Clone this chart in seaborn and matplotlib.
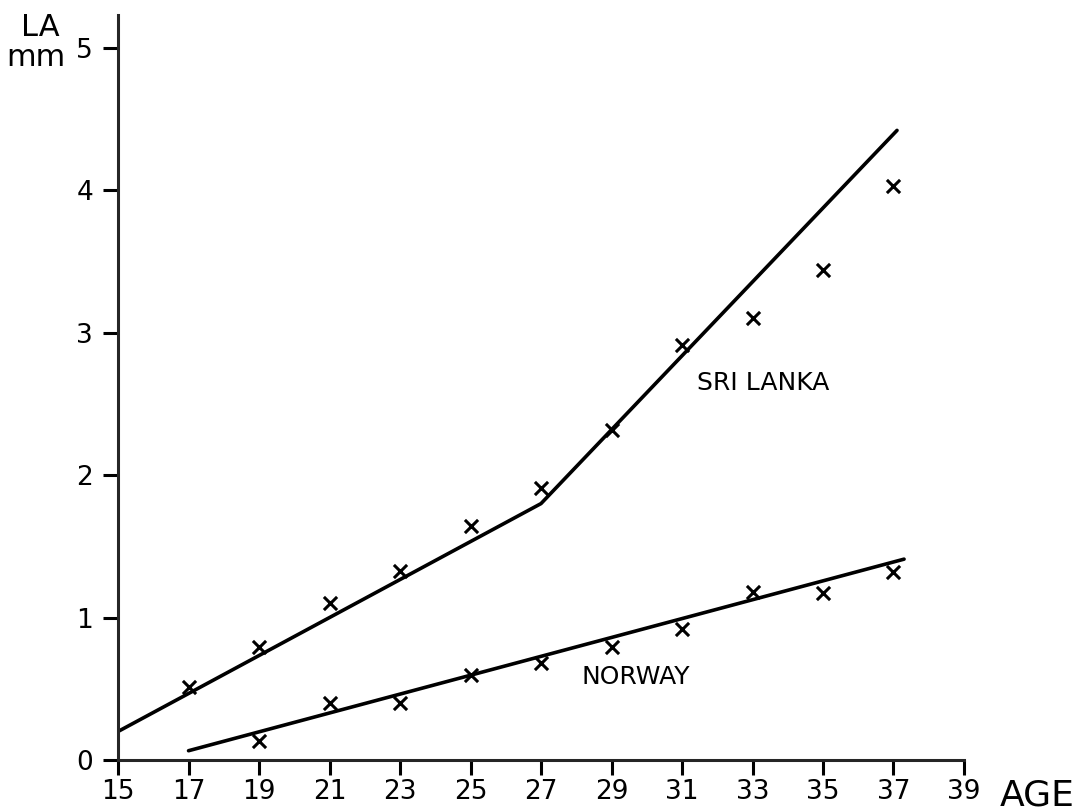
import matplotlib
matplotlib.use("Agg")
import matplotlib.pyplot as plt
import seaborn as sns
import pandas as pd

# Observed points
ages = [17, 19, 21, 23, 25, 27, 29, 31, 33, 35, 37]
sri_lanka = [0.51, 0.79, 1.10, 1.33, 1.64, 1.91, 2.32, 2.91, 3.10, 3.44, 4.03]
norway_ages = [19, 21, 23, 25, 27, 29, 31, 33, 35, 37]
norway = [0.13, 0.40, 0.40, 0.60, 0.68, 0.79, 0.92, 1.18, 1.17, 1.32]

# Fitted lines
sl_fit_x = [15, 27, 37.1]
sl_fit_y = [0.20, 1.80, 4.42]
no_fit_x = [17, 37.3]
no_fit_y = [0.065, 1.41]

x_ticks = list(range(15, 40, 2))
y_ticks = [0, 1, 2, 3, 4, 5]

sns.set_style("ticks")
plt.rcParams['font.family'] = ['DejaVu Sans']
plt.rcParams['text.color'] = 'black'

fig = plt.figure(figsize=(10.76, 8.11), dpi=100)
ax = fig.add_axes([0.1097, 0.0629, 0.7862, 0.9186])

sl_fit = pd.DataFrame({"x": sl_fit_x, "y": sl_fit_y})
no_fit = pd.DataFrame({"x": no_fit_x, "y": no_fit_y})
sns.lineplot(data=sl_fit, x="x", y="y", ax=ax, color="black", linewidth=2.6, sort=False)
sns.lineplot(data=no_fit, x="x", y="y", ax=ax, color="black", linewidth=2.6, sort=False)

sl_pts = pd.DataFrame({"x": ages, "y": sri_lanka})
no_pts = pd.DataFrame({"x": norway_ages, "y": norway})
sns.scatterplot(data=sl_pts, x="x", y="y", ax=ax, marker="x", color="black", s=90, linewidth=2.2)
sns.scatterplot(data=no_pts, x="x", y="y", ax=ax, marker="x", color="black", s=90, linewidth=2.2)

ax.set_xlim(15, 39)
ax.set_ylim(0, 5.23)
ax.set_xticks(x_ticks)
ax.set_yticks(y_ticks)
ax.set_xlabel("")
ax.set_ylabel("")
sns.despine(ax=ax)
for s in ["left", "bottom"]:
    ax.spines[s].set_linewidth(2.2)
ax.tick_params(axis="both", direction="out", length=11, width=2.2, labelsize=19, colors="black")
ax.tick_params(axis="x", pad=3)
ax.tick_params(axis="y", pad=7)

ax.text(33.3, 2.65, "SRI LANKA", fontsize=18, ha="center", va="center", color="black")
ax.text(29.7, 0.58, "NORWAY", fontsize=18, ha="center", va="center", color="black")

fig.text(40 / 1076, 1 - 28 / 811, "LA", fontsize=22, ha="center", va="center", color="black")
fig.text(36 / 1076, 1 - 58 / 811, "mm", fontsize=22, ha="center", va="center", color="black")
fig.text(1000 / 1076, 1 - 795 / 811, "AGE", fontsize=26, ha="left", va="center", color="black")

fig.savefig("out.png", dpi=100, facecolor="white")
